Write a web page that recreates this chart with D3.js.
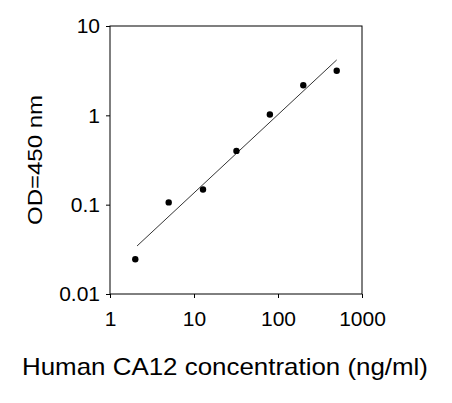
<!DOCTYPE html>
<html><head><meta charset="utf-8">
<script src="https://cdn.jsdelivr.net/npm/d3@7"></script>
<style>body{margin:0;background:#fff}text{font-family:Arial,"Liberation Sans",sans-serif;fill:#000}</style>
</head><body><svg id="chart" width="452" height="403"></svg>
<script>
// standard points
const concentrations = [2, 5, 12.8, 32, 80, 200, 500];
const odValues = [0.0245, 0.106, 0.148, 0.40, 1.02, 2.17, 3.16];
// fitted line endpoints
const fitX = [2.1, 500];
const fitY = [0.0345, 4.17];
const xTicks = [1, 10, 100, 1000];
const yTicks = [0.01, 0.1, 1, 10];

const svg = d3.select("#chart");
const x = d3.scaleLog().domain([1, 1000]).range([110, 362]);
const y = d3.scaleLog().domain([0.01, 10]).range([294, 26]);

svg.append("rect").attr("x", 110).attr("y", 26).attr("width", 252).attr("height", 268)
    .attr("fill", "none").attr("stroke", "#000").attr("stroke-width", 1);

const xAxis = svg.append("g").attr("transform", "translate(0,294)")
    .call(d3.axisBottom(x).tickValues(xTicks).tickFormat(d3.format("")).tickSizeOuter(0).tickSize(4));
const yAxis = svg.append("g").attr("transform", "translate(110,0)")
    .call(d3.axisLeft(y).tickValues(yTicks).tickFormat((d) => String(d)).tickSizeOuter(0).tickSize(4));
[xAxis, yAxis].forEach((g) => {
    g.select(".domain").remove();
    g.selectAll("text").style("font-size", "21px").style("font-family", "Arial, 'Liberation Sans', sans-serif");
});
xAxis.selectAll("text").attr("dy", "0").attr("y", 32);
yAxis.selectAll("text").attr("x", -10);

svg.append("path")
    .datum(fitX.map((d, i) => [d, fitY[i]]))
    .attr("d", d3.line().x((d) => x(d[0])).y((d) => y(d[1])))
    .attr("fill", "none").attr("stroke", "#000").attr("stroke-width", 0.8);

svg.selectAll(".pt").data(concentrations).enter().append("circle")
    .attr("cx", (d) => x(d)).attr("cy", (d, i) => y(odValues[i]))
    .attr("r", 3.2).attr("fill", "#000");

svg.append("text").attr("x", 225).attr("y", 375).attr("text-anchor", "middle")
    .attr("textLength", 406).attr("lengthAdjust", "spacingAndGlyphs")
    .style("font-size", "24px").text("Human CA12 concentration (ng/ml)");
svg.append("text").attr("transform", "translate(42,160) rotate(-90)").attr("text-anchor", "middle")
    .attr("textLength", 130).attr("lengthAdjust", "spacingAndGlyphs")
    .style("font-size", "21px").text("OD=450 nm");
</script></body></html>
